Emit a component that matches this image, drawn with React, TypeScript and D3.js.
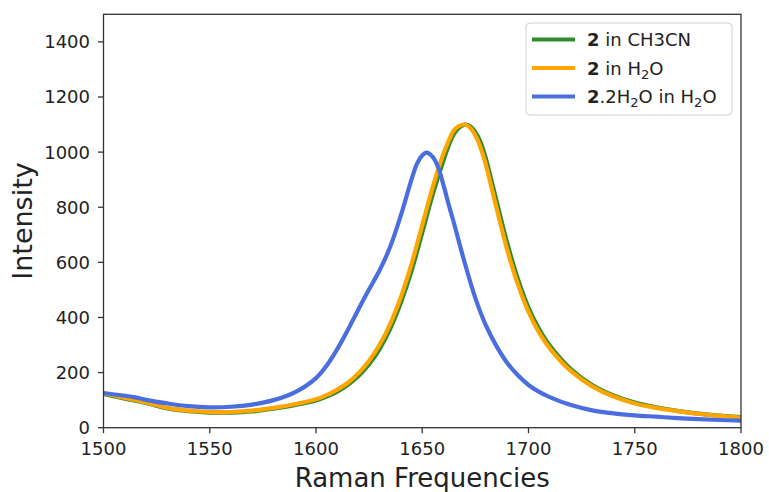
import React from "react";
import * as d3 from "d3";

const freqs = [1500,1510,1520,1530,1540,1550,1560,1570,1580,1590,1600,1605,1610,1615,1620,1625,1630,1635,1640,1645,1650,1655,1660,1662.5,1665,1667.5,1670,1672.5,1675,1677.5,1680,1685,1690,1695,1700,1705,1710,1720,1730,1740,1750,1760,1770,1780,1790,1800];

const orangeVals = [125,108,92,72,62,57,57,62,72,85,103,118,138,163,198,243,302,378,475,595,735,875,995,1042,1080,1095,1100,1088,1060,1015,952,795,645,520,420,345,288,205,150,113,88,72,60,50,43,37];
const greenVals = [122,105,90,70,60,55,55,59,69,82,99,113,131,156,188,230,286,360,455,570,708,848,970,1025,1067,1090,1100,1094,1072,1035,975,822,670,540,436,358,298,212,155,117,91,74,61,51,44,38];

const blueFreqs = [1500,1510,1515,1520,1530,1540,1550,1560,1570,1580,1590,1600,1605,1610,1615,1620,1625,1630,1635,1640,1645,1647.5,1650,1652,1655,1657.5,1660,1662.5,1665,1667.5,1670,1675,1680,1685,1690,1695,1700,1705,1710,1720,1730,1740,1750,1760,1770,1780,1790,1800];
const blueVals = [126,116,110,101,88,78,74,76,84,100,128,180,225,285,355,430,502,572,658,772,902,957,988,998,982,945,880,808,740,668,598,470,370,295,235,190,155,130,111,82,63,52,45,40,35,31,28,26];

const xTicks = [1500,1550,1600,1650,1700,1750,1800];
const yTicks = [0,200,400,600,800,1000,1200,1400];

const seriesNames = ["in CH3CN", "in H2O", "2H2O in H2O"];
const colors = ["#2e8b2e", "#ffa500", "#4a6ee0"];

const FONT = "DejaVu Sans, Liberation Sans, sans-serif";

export default function App() {
  const left = 103.5, right = 741, top = 14.3, bottom = 427.7;
  const x = d3.scaleLinear().domain([1500, 1800]).range([left, right]);
  const y = d3.scaleLinear().domain([0, 1500]).range([bottom, top]);
  const line = d3
    .line<[number, number]>()
    .x((d) => x(d[0]))
    .y((d) => y(d[1]))
    .curve(d3.curveCatmullRom.alpha(0.5));

  const series = [
    freqs.map((f, i) => [f, greenVals[i]] as [number, number]),
    freqs.map((f, i) => [f, orangeVals[i]] as [number, number]),
    blueFreqs.map((f, i) => [f, blueVals[i]] as [number, number]),
  ];

  const axisColor = "#333";
  const legendX = 526, legendY = 23;
  const rowY = [39.5, 68, 96.5];

  const sub = (t: string) => (
    <tspan fontSize={13} dy={4}>{t}</tspan>
  );

  const labels = [
    <>
      <tspan fontWeight="bold">2</tspan> in CH3CN
    </>,
    <>
      <tspan fontWeight="bold">2</tspan> in H{sub("2")}
      <tspan dy={-4}>O</tspan>
    </>,
    <>
      <tspan fontWeight="bold">2</tspan>.2H{sub("2")}
      <tspan dy={-4}>O in H</tspan>
      {sub("2")}
      <tspan dy={-4}>O</tspan>
    </>,
  ];

  return (
    <svg
      width={769}
      height={492}
      style={{ position: "absolute", left: 0, top: 0, background: "#fff" }}
      fontFamily={FONT}
    >
      <rect x={0} y={0} width={769} height={492} fill="#fff" />
      <defs>
        <clipPath id="plotclip">
          <rect x={left} y={top} width={right - left} height={bottom - top} />
        </clipPath>
      </defs>
      <g clipPath="url(#plotclip)">
        {series.map((s, i) => (
          <path
            key={seriesNames[i]}
            d={line(s) || ""}
            fill="none"
            stroke={colors[i]}
            strokeWidth={4.2}
            strokeLinejoin="round"
            strokeLinecap="round"
          />
        ))}
      </g>
      <rect
        x={left}
        y={top}
        width={right - left}
        height={bottom - top}
        fill="none"
        stroke={axisColor}
        strokeWidth={1.3}
      />
      {xTicks.map((t) => (
        <g key={"x" + t}>
          <line x1={x(t)} x2={x(t)} y1={bottom} y2={bottom + 5.5} stroke={axisColor} strokeWidth={1.3} />
          <text x={x(t)} y={455} textAnchor="middle" fontSize={18} fill="#222">
            {t}
          </text>
        </g>
      ))}
      {yTicks.map((t) => (
        <g key={"y" + t}>
          <line x1={left - 5.5} x2={left} y1={y(t)} y2={y(t)} stroke={axisColor} strokeWidth={1.3} />
          <text x={90} y={y(t) + 6.5} textAnchor="end" fontSize={18} fill="#222">
            {t}
          </text>
        </g>
      ))}
      <text x={(left + right) / 2} y={487} textAnchor="middle" fontSize={26} fill="#222">
        Raman Frequencies
      </text>
      <text
        transform={`translate(32, ${(top + bottom) / 2}) rotate(-90)`}
        textAnchor="middle"
        fontSize={27}
        fill="#222"
      >
        Intensity
      </text>
      <rect
        x={legendX}
        y={legendY}
        width={206}
        height={92}
        rx={4}
        fill="#fff"
        fillOpacity={0.8}
        stroke="#d0d0d0"
        strokeWidth={1}
      />
      {labels.map((lab, i) => (
        <g key={"leg" + i}>
          <line x1={532} x2={575} y1={rowY[i]} y2={rowY[i]} stroke={colors[i]} strokeWidth={4.2} />
          <text x={587} y={rowY[i] + 6.5} fontSize={18} fill="#222">
            {lab}
          </text>
        </g>
      ))}
    </svg>
  );
}
